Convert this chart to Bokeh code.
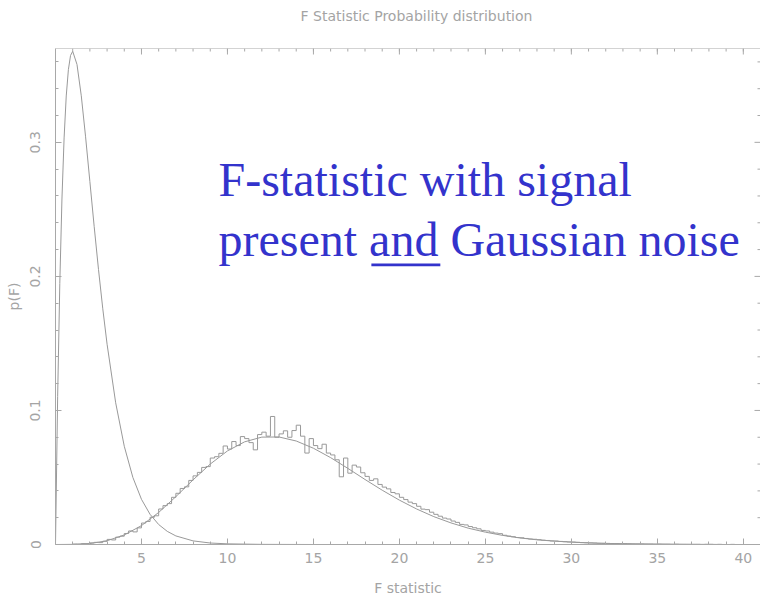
import math
import numpy as np
from bokeh.plotting import figure
from bokeh.models import Range1d, FixedTicker, Label, BoxAnnotation, Span
from bokeh.embed import file_html
from bokeh.resources import INLINE

# ---------------- data ----------------
title_text = "F Statistic Probability distribution"
x_label = "F statistic"
y_label = "p(F)"
annot_line1 = "F-statistic with signal"
annot_line2 = "present and Gaussian noise"

x_ticks = [5, 10, 15, 20, 25, 30, 35, 40]
x_minor = list(range(0, 42))
y_ticks = [0, 0.1, 0.2, 0.3]
y_minor = [0.02, 0.04, 0.06, 0.08, 0.12, 0.14, 0.16, 0.18, 0.22, 0.24, 0.26, 0.28, 0.32, 0.34, 0.36]

# noise-only distribution (smooth curve, peak near F=1)
noise_F = [0, 0.125, 0.25, 0.375, 0.5, 0.625, 0.75, 0.875, 1.0, 1.25, 1.5, 1.75, 2.0,
           2.25, 2.5, 2.75, 3.0, 3.5, 4.0, 4.5, 5.0, 5.5, 6.0, 6.5, 7.0, 8.0, 9.0, 10.0,
           12.0, 15.0, 20.0, 30.0, 41.0]
noise_p = [0.0, 0.1103, 0.1947, 0.2577, 0.3033, 0.3346, 0.3543, 0.3648, 0.3679, 0.3581,
           0.3347, 0.3041, 0.2707, 0.2371, 0.2052, 0.1758, 0.1494, 0.1057, 0.0733, 0.0500,
           0.0337, 0.0225, 0.0149, 0.0098, 0.0064, 0.0027, 0.0011, 0.0005, 0.0001, 0.0,
           0.0, 0.0, 0.0]

# signal-present distribution (smooth curve, peak near F=13)
signal_F = list(range(0, 42))
signal_p = [0.0, 0.0001, 0.0007, 0.0028, 0.0071, 0.0141, 0.0239, 0.0357, 0.0482, 0.0600,
            0.0698, 0.0766, 0.0801, 0.0802, 0.0772, 0.0718, 0.0648, 0.0568, 0.0485, 0.0405,
            0.0331, 0.0265, 0.0208, 0.0161, 0.0122, 0.0092, 0.0068, 0.0049, 0.0035, 0.0025,
            0.0018, 0.0012, 0.0008, 0.0006, 0.0004, 0.0003, 0.0002, 0.0001, 0.0001, 0.0,
            0.0, 0.0]

# simulated histogram (bins of 0.25 starting at F=1)
hist_start = 1.0
hist_width = 0.25
hist_p = [
    0.0003, 0.0002, 0.0006, 0.0005,
    0.0012, 0.0016, 0.0014, 0.0024,
    0.0038, 0.0034, 0.0055, 0.0062,
    0.0082, 0.0101, 0.0094, 0.0124,
    0.0160, 0.0172, 0.0203, 0.0214,
    0.0265, 0.0290, 0.0305, 0.0352,
    0.0382, 0.0418, 0.0430, 0.0478,
    0.0512, 0.0538, 0.0575, 0.0581,
    0.0645, 0.0655, 0.0680, 0.0735,
    0.0712, 0.0768, 0.0738, 0.0805,
    0.0790, 0.0760, 0.0706, 0.0820,
    0.0838, 0.0808, 0.0955, 0.0800,
    0.0825, 0.0848, 0.0800, 0.0850,
    0.0890, 0.0808, 0.0682, 0.0790,
    0.0738, 0.0715, 0.0748, 0.0682,
    0.0668, 0.0632, 0.0505, 0.0645,
    0.0532, 0.0592, 0.0578, 0.0535,
    0.0508, 0.0478, 0.0490, 0.0448,
    0.0428, 0.0415, 0.0388, 0.0378,
    0.0352, 0.0335, 0.0316, 0.0305,
    0.0285, 0.0264, 0.0260, 0.0241,
    0.0225, 0.0211, 0.0197, 0.0190,
    0.0175, 0.0165, 0.0150, 0.0146,
    0.0134, 0.0125, 0.0117, 0.0105,
    0.0101, 0.0092, 0.0085, 0.0081,
    0.0069, 0.0063, 0.0058, 0.0052,
    0.0050, 0.0045, 0.0041, 0.0039,
    0.0036, 0.0032, 0.0030, 0.0027,
    0.0026, 0.0023, 0.0021, 0.0019,
    0.0018, 0.0016, 0.0014, 0.0013,
    0.0012, 0.0011, 0.0009, 0.0009,
    0.0008, 0.0007, 0.0007, 0.0005,
    0.0006, 0.0005, 0.0004, 0.0004,
    0.0004, 0.0003, 0.0003, 0.0002,
    0.0003, 0.0002, 0.0002, 0.0001,
    0.0002, 0.0001, 0.0001, 0.0001,
    0.0001, 0.0001, 0.0000, 0.0001,
    0.0001, 0.0000, 0.0001, 0.0000,
    0.0000, 0.0001, 0.0000, 0.0000,
]

# ---------------- styling ----------------
AX = "#a8a8a8"
TXT = "#a4a4a4"
CURVE = "#999999"
BLUE = "#3333cc"
AXFONT = "DejaVu Sans"
X0, X1 = 0, 41.0
Y0, Y1 = 0, 0.370

p = figure(width=760, height=598, x_range=Range1d(X0, X1), y_range=Range1d(Y0, Y1),
           output_backend="svg", toolbar_location=None,
           x_axis_label=x_label, y_axis_label=y_label,
           min_border_left=55, min_border_right=0, min_border_top=48, min_border_bottom=54)
p.background_fill_color = "white"
p.border_fill_color = "white"
p.outline_line_color = None
p.grid.visible = False

# title label placed in the panel above the frame
p.add_layout(Label(x=361, y=33, x_units="screen", y_units="screen", text=title_text,
                   text_align="center", text_baseline="middle", text_font=AXFONT,
                   text_font_size="14px", text_color=TXT), "above")

xt = FixedTicker(ticks=x_ticks, minor_ticks=x_minor)
yt = FixedTicker(ticks=y_ticks, minor_ticks=y_minor)

for ax in (p.xaxis[0], p.yaxis[0]):
    ax.axis_line_color = AX
    ax.major_tick_line_color = AX
    ax.minor_tick_line_color = AX
    ax.major_tick_in = 6
    ax.major_tick_out = 0
    ax.minor_tick_in = 3
    ax.minor_tick_out = 0
    ax.major_label_text_color = TXT
    ax.major_label_text_font = AXFONT
    ax.major_label_text_font_size = "14px"
    ax.axis_label_text_color = TXT
    ax.axis_label_text_font = AXFONT
    ax.axis_label_text_font_size = "14px"
    ax.axis_label_text_font_style = "normal"

p.xaxis.ticker = xt
p.yaxis.ticker = yt
p.xaxis.major_label_standoff = 8
p.xaxis.axis_label_standoff = 14
p.yaxis.major_label_standoff = 15
p.yaxis.axis_label_standoff = 6
p.yaxis.major_label_orientation = "vertical"

# top frame line and inward ticks on the top and right edges (PGPLOT box style)
p.add_layout(Span(location=Y1, dimension="width", line_color=AX, line_width=1))
p.ray(x=x_ticks, y=[Y1] * len(x_ticks), length=6, length_units="screen",
      angle=-math.pi / 2, line_color=AX, line_width=1)
p.ray(x=x_minor, y=[Y1] * len(x_minor), length=3, length_units="screen",
      angle=-math.pi / 2, line_color=AX, line_width=1)
p.ray(x=[X1] * len(y_ticks), y=y_ticks, length=6, length_units="screen",
      angle=math.pi, line_color=AX, line_width=1)
p.ray(x=[X1] * len(y_minor), y=y_minor, length=3, length_units="screen",
      angle=math.pi, line_color=AX, line_width=1)

# curves
p.line(noise_F, noise_p, line_color=CURVE, line_width=1)
p.line(signal_F, signal_p, line_color=CURVE, line_width=1)
edges = hist_start + hist_width * np.arange(len(hist_p) + 1)
p.step(edges, list(hist_p) + [hist_p[-1]], mode="after", line_color=CURVE, line_width=1)

# annotation text
p.add_layout(Label(x=9.48, y=0.2724, text=annot_line1, text_font="Liberation Serif",
                   text_font_size="48px", text_color=BLUE, text_baseline="alphabetic"))
p.add_layout(Label(x=9.48, y=0.2276, text=annot_line2, text_font="Liberation Serif",
                   text_font_size="48px", text_color=BLUE, text_baseline="alphabetic"))
p.add_layout(BoxAnnotation(left=18.37, right=22.38, bottom=0.2075, top=0.2097,
                           fill_color=BLUE, fill_alpha=1.0, line_color=None))

open("out.html", "w").write(file_html(p, INLINE))
